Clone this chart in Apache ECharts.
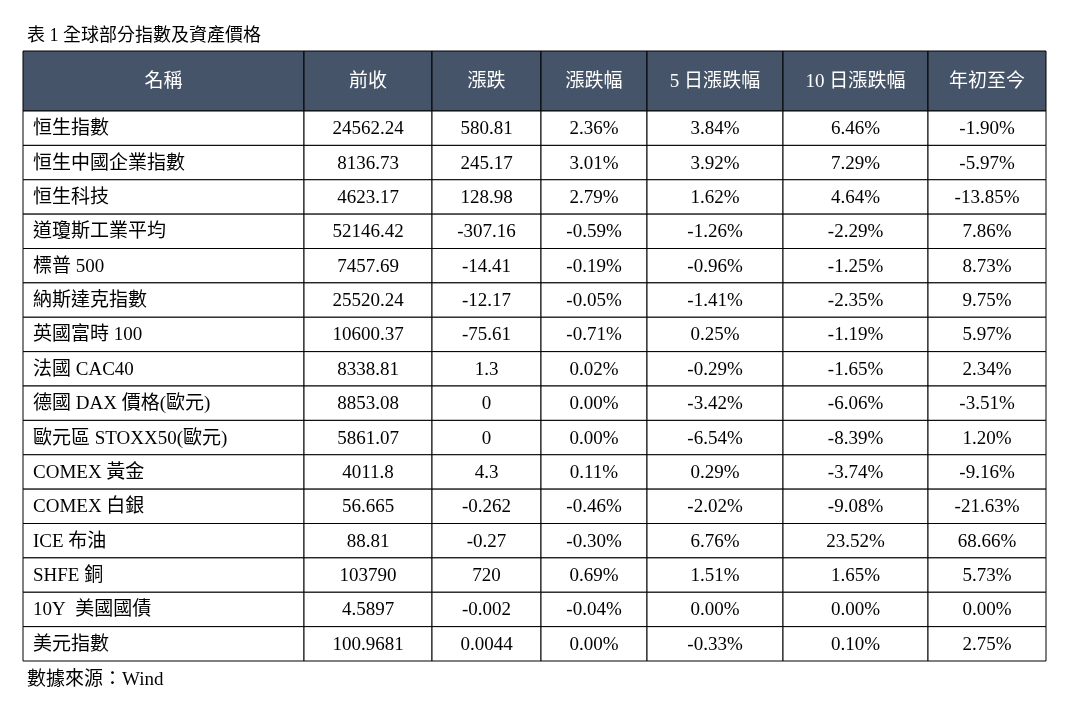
<!DOCTYPE html>
<html><head><meta charset="utf-8">
<script src="https://cdn.jsdelivr.net/npm/echarts@6/dist/echarts.min.js"></script>
<style>html,body{margin:0;background:#fff}#chart{width:1071px;height:712px}</style>
</head><body><div id="chart"></div>
<script>
var title = '表 1 全球部分指數及資產價格';
var source = '數據來源：Wind';
var headers = ['名稱', '前收', '漲跌', '漲跌幅', '5 日漲跌幅', '10 日漲跌幅', '年初至今'];
var names = ['恒生指數', '恒生中國企業指數', '恒生科技', '道瓊斯工業平均', '標普 500', '納斯達克指數', '英國富時 100', '法國 CAC40', '德國 DAX 價格(歐元)', '歐元區 STOXX50(歐元)', 'COMEX 黃金', 'COMEX 白銀', 'ICE 布油', 'SHFE 銅', '10Y  美國國債', '美元指數'];
var prevClose = ['24562.24', '8136.73', '4623.17', '52146.42', '7457.69', '25520.24', '10600.37', '8338.81', '8853.08', '5861.07', '4011.8', '56.665', '88.81', '103790', '4.5897', '100.9681'];
var change = ['580.81', '245.17', '128.98', '-307.16', '-14.41', '-12.17', '-75.61', '1.3', '0', '0', '4.3', '-0.262', '-0.27', '720', '-0.002', '0.0044'];
var changePct = ['2.36%', '3.01%', '2.79%', '-0.59%', '-0.19%', '-0.05%', '-0.71%', '0.02%', '0.00%', '0.00%', '0.11%', '-0.46%', '-0.30%', '0.69%', '-0.04%', '0.00%'];
var change5d = ['3.84%', '3.92%', '1.62%', '-1.26%', '-0.96%', '-1.41%', '0.25%', '-0.29%', '-3.42%', '-6.54%', '0.29%', '-2.02%', '6.76%', '1.51%', '0.00%', '-0.33%'];
var change10d = ['6.46%', '7.29%', '4.64%', '-2.29%', '-1.25%', '-2.35%', '-1.19%', '-1.65%', '-6.06%', '-8.39%', '-3.74%', '-9.08%', '23.52%', '1.65%', '0.00%', '0.10%'];
var ytd = ['-1.90%', '-5.97%', '-13.85%', '7.86%', '8.73%', '9.75%', '5.97%', '2.34%', '-3.51%', '1.20%', '-9.16%', '-21.63%', '68.66%', '5.73%', '0.00%', '2.75%'];

var colWidths = [281, 128, 109, 106, 136, 145, 118];
var headerH = 60, rowH = 34.375;
var columns = [names, prevClose, change, changePct, change5d, change10d, ytd];

var colStart = [0];
colWidths.forEach(function (w, i) { colStart.push(colStart[i] + w); });
var totalW = colStart[colStart.length - 1];
var totalH = headerH + rowH * names.length;

var cells = [];
headers.forEach(function (h, c) { cells.push([c, -1, h]); });
columns.forEach(function (col, c) {
    col.forEach(function (v, r) { cells.push([c, r, v]); });
});

var font = '"Liberation Serif", "Noto Sans CJK TC", serif';

function renderItem(params, api) {
    var c = api.value(0), r = api.value(1), txt = cells[params.dataIndex][2];
    var y0 = r < 0 ? 0 : headerH + r * rowH;
    var y1 = r < 0 ? headerH : y0 + rowH;
    var p0 = api.coord([colStart[c], y0]);
    var p1 = api.coord([colStart[c + 1], y1]);
    var isHead = r < 0;
    return {
        type: 'group',
        children: [{
            type: 'rect',
            shape: {x: p0[0], y: p0[1], width: p1[0] - p0[0], height: p1[1] - p0[1]},
            style: {fill: isHead ? '#455468' : '#fff', stroke: '#000', lineWidth: 1}
        }, {
            type: 'text',
            style: {
                text: txt,
                x: c === 0 && !isHead ? p0[0] + 10 : (p0[0] + p1[0]) / 2,
                y: (p0[1] + p1[1]) / 2 + 1,
                align: c === 0 && !isHead ? 'left' : 'center',
                verticalAlign: 'middle',
                fill: isHead ? '#fff' : '#000',
                font: '19px ' + font
            }
        }]
    };
}

var myChart = echarts.init(document.getElementById('chart'));
myChart.setOption({
    animation: false,
    title: [{
        text: title, left: 22, top: 22,
        textStyle: {fontSize: 18, fontWeight: 'normal', color: '#000', fontFamily: font}
    }, {
        text: source, left: 22, top: 666,
        textStyle: {fontSize: 19, fontWeight: 'normal', color: '#000', fontFamily: font}
    }],
    grid: {left: 23, right: 25, top: 51, bottom: 51},
    xAxis: {type: 'value', min: 0, max: totalW, show: false},
    yAxis: {type: 'value', min: 0, max: totalH, inverse: true, show: false},
    series: [{
        type: 'custom',
        renderItem: renderItem,
        data: cells.map(function (d) { return [d[0], d[1]]; })
    }]
});
</script></body></html>
